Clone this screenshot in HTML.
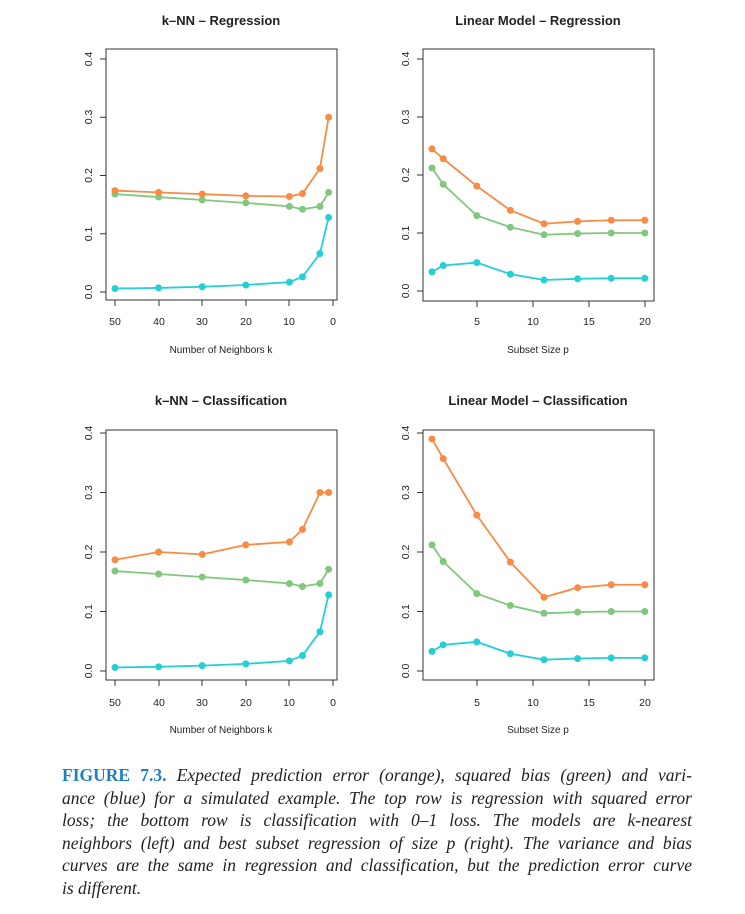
<!DOCTYPE html>
<html><head><meta charset="utf-8">
<style>
body{margin:0;background:#fff;width:745px;height:914px;overflow:hidden;position:relative}
svg{position:absolute;left:0;top:0}
.cap{position:absolute;left:62px;top:764px;width:630px;font-family:"Liberation Serif",serif;font-style:italic;font-size:17.5px;line-height:22.6px;color:#222}
.cap div{text-align:justify;text-align-last:justify;white-space:nowrap}
.cap div.l{text-align-last:left}
.cap b{font-style:normal;color:#1f7fbf;font-weight:bold;font-size:17.5px}
</style></head><body>
<svg id="s" width="745" height="914" font-family="Liberation Sans, sans-serif" fill="#222">
<g font-weight="bold" font-size="13" text-anchor="middle">
<text x="221" y="25">k–NN – Regression</text>
<text x="538" y="25">Linear Model – Regression</text>
<text x="221" y="405">k–NN – Classification</text>
<text x="538" y="405">Linear Model – Classification</text>
</g>
<g font-size="10.5" text-anchor="middle">
<text x="115" y="325">50</text><text x="159" y="325">40</text><text x="202" y="325">30</text><text x="246" y="325">20</text><text x="289" y="325">10</text><text x="333" y="325">0</text>
<text x="477" y="325">5</text><text x="533" y="325">10</text><text x="589" y="325">15</text><text x="645" y="325">20</text>
<text x="115" y="706">50</text><text x="159" y="706">40</text><text x="202" y="706">30</text><text x="246" y="706">20</text><text x="289" y="706">10</text><text x="333" y="706">0</text>
<text x="477" y="706">5</text><text x="533" y="706">10</text><text x="589" y="706">15</text><text x="645" y="706">20</text>
<text x="221" y="353" font-size="10">Number of Neighbors k</text>
<text x="538" y="353" font-size="10">Subset Size p</text>
<text x="221" y="733" font-size="10">Number of Neighbors k</text>
<text x="538" y="733" font-size="10">Subset Size p</text>
</g>
<g font-size="10.5" text-anchor="middle">
<text transform="translate(92,292) rotate(-90)">0.0</text>
<text transform="translate(92,234) rotate(-90)">0.1</text>
<text transform="translate(92,175.5) rotate(-90)">0.2</text>
<text transform="translate(92,117) rotate(-90)">0.3</text>
<text transform="translate(92,59) rotate(-90)">0.4</text>
<text transform="translate(409,291) rotate(-90)">0.0</text>
<text transform="translate(409,233) rotate(-90)">0.1</text>
<text transform="translate(409,175) rotate(-90)">0.2</text>
<text transform="translate(409,117) rotate(-90)">0.3</text>
<text transform="translate(409,59) rotate(-90)">0.4</text>
<text transform="translate(92,671) rotate(-90)">0.0</text>
<text transform="translate(92,611.5) rotate(-90)">0.1</text>
<text transform="translate(92,552) rotate(-90)">0.2</text>
<text transform="translate(92,492.5) rotate(-90)">0.3</text>
<text transform="translate(92,433) rotate(-90)">0.4</text>
<text transform="translate(409,671) rotate(-90)">0.0</text>
<text transform="translate(409,611.5) rotate(-90)">0.1</text>
<text transform="translate(409,552) rotate(-90)">0.2</text>
<text transform="translate(409,492.5) rotate(-90)">0.3</text>
<text transform="translate(409,433) rotate(-90)">0.4</text>
</g>
<g id="plots"></g>
</svg>
<div class="cap">
<div><b>FIGURE 7.3.</b> Expected prediction error (orange), squared bias (green) and vari-</div>
<div>ance (blue) for a simulated example. The top row is regression with squared error</div>
<div>loss; the bottom row is classification with 0–1 loss. The models are k-nearest</div>
<div>neighbors (left) and best subset regression of size p (right). The variance and bias</div>
<div>curves are the same in regression and classification, but the prediction error curve</div>
<div class="l">is different.</div>
</div>
<script>
var g=document.getElementById('plots'),h='';
var O='#f98b44',G='#80c87c',B='#22d0d6';
var K=[50,40,30,20,10,7,3,1],P=[1,2,5,8,11,14,17,20];
var kg=[.168,.163,.158,.153,.147,.142,.147,.171],kb=[.006,.007,.009,.012,.017,.026,.066,.128];
var lg=[.212,.184,.130,.110,.097,.099,.100,.100],lb=[.033,.044,.049,.029,.019,.021,.022,.022];
function panel(L,R,T,Bt,y0,y4,xs,fx,series,ticks,tx){
 h+='<rect x="'+L+'" y="'+T+'" width="'+(R-L)+'" height="'+(Bt-T)+'" fill="none" stroke="#333" stroke-width="1"/>';
 for(var i=0;i<5;i++){var y=y0+(y4-y0)*i/4;h+='<line x1="'+(L-6)+'" x2="'+L+'" y1="'+y+'" y2="'+y+'" stroke="#333"/>';}
 tx.forEach(function(x){h+='<line x1="'+x+'" x2="'+x+'" y1="'+Bt+'" y2="'+(Bt+6)+'" stroke="#333"/>';});
 series.forEach(function(s){var pts=s[0].map(function(v,i){return [fx(xs[i]),y0+(y4-y0)*v/0.4];});
  h+='<polyline fill="none" stroke="'+s[1]+'" stroke-width="1.8" points="'+pts.map(function(p){return p.join(',')}).join(' ')+'"/>';
  pts.forEach(function(p){h+='<circle cx="'+p[0]+'" cy="'+p[1]+'" r="3.5" fill="'+s[1]+'"/>';});});
}
var fk=function(k){return 333-k*4.36},fp=function(p){return 432+(p-1)*11.2};
var ktx=[115,159,202,246,289,333],ptx=[477,533,589,645];
panel(106,337,49,300,292,59,K,fk,[[kb,B],[kg,G],[[.174,.171,.168,.165,.164,.169,.212,.300],O]],0,ktx);
panel(423,654,49,301,291,59,P,fp,[[lb,B],[lg,G],[[.245,.228,.181,.139,.116,.120,.122,.122],O]],0,ptx);
panel(106,337,430,680,671,433,K,fk,[[kb,B],[kg,G],[[.187,.200,.196,.212,.217,.238,.300,.300],O]],0,ktx);
panel(423,654,430,680,671,433,P,fp,[[lb,B],[lg,G],[[.39,.357,.262,.183,.124,.140,.145,.145],O]],0,ptx);
g.innerHTML=h;
</script>
</body></html>
